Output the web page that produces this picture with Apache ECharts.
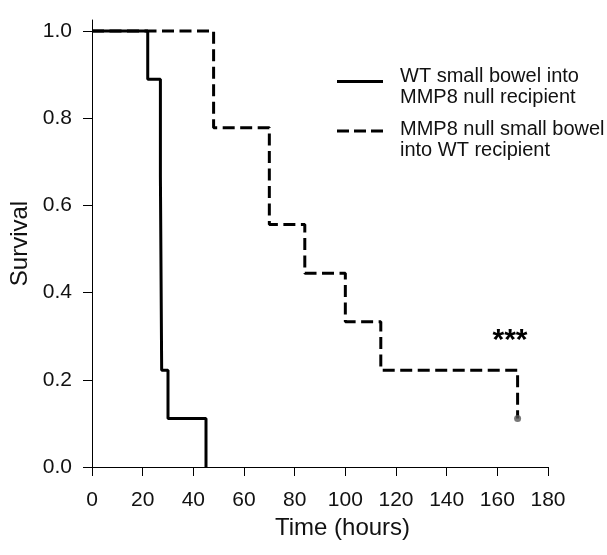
<!DOCTYPE html>
<html><head><meta charset="utf-8">
<script src="https://cdn.jsdelivr.net/npm/echarts@6/dist/echarts.min.js"></script>
<style>html,body{margin:0;padding:0;background:#fff}#c{width:607px;height:555px}</style>
</head><body><div id="c"></div>
<script>
// ---- data ----
const xTicks = [0, 20, 40, 60, 80, 100, 120, 140, 160, 180];
const yTicks = [0, 0.2, 0.4, 0.6, 0.8, 1.0];
const wtTime = [0, 22, 27, 27.5, 30, 45];
const wtSurv = [1, 0.889, 0.667, 0.222, 0.111, 0];
const nullTime = [0, 48, 70, 84, 100, 114, 168];
const nullSurv = [1, 0.778, 0.556, 0.444, 0.333, 0.222, 0.111];
const censorTime = [168];
const censorSurv = [0.111];
const seriesNames = ['WT small bowel into\nMMP8 null recipient', 'MMP8 null small bowel\ninto WT recipient'];
const annotationText = '***';
const annotationPos = [165, 0.3];
const xName = 'Time (hours)';
const yName = 'Survival';

const FONT = 'Liberation Sans, Arial, Helvetica, sans-serif';
const zip = (a, b) => a.map((v, i) => [v, b[i]]);

const chart = echarts.init(document.getElementById('c'), null, {renderer: 'canvas'});
chart.setOption({
  animation: false,
  backgroundColor: '#fff',
  grid: {left: 92, right: 59, top: 20, bottom: 88, containLabel: false, outerBoundsMode: 'none'},
  xAxis: {
    type: 'value', min: xTicks[0], max: xTicks[xTicks.length - 1], interval: 20,
    name: xName, nameLocation: 'middle', nameGap: 49,
    nameTextStyle: {fontFamily: FONT, fontSize: 24, color: '#111', padding: [0, 0, 0, 45]},
    axisLine: {show: true, lineStyle: {color: '#000', width: 1}},
    axisTick: {show: true, inside: false, length: 9, lineStyle: {color: '#000', width: 1}, customValues: xTicks},
    axisLabel: {fontFamily: FONT, fontSize: 21, color: '#111', margin: 23, customValues: xTicks},
    splitLine: {show: false}
  },
  yAxis: {
    type: 'value', min: 0, max: 1.025,
    name: yName, nameLocation: 'middle', nameGap: 58, nameRotate: 90,
    nameTextStyle: {fontFamily: FONT, fontSize: 24, color: '#111'},
    axisLine: {show: true, onZero: false, lineStyle: {color: '#000', width: 1}},
    axisTick: {show: true, inside: false, length: 9, lineStyle: {color: '#000', width: 1}, customValues: yTicks},
    axisLabel: {fontFamily: FONT, fontSize: 21, color: '#111', margin: 20, customValues: yTicks,
      formatter: v => Number(v).toFixed(1)},
    splitLine: {show: false}
  },
  series: [
    {
      name: seriesNames[1], type: 'line', step: 'end', data: zip(nullTime, nullSurv),
      symbol: 'none', z: 2,
      lineStyle: {color: '#000', width: 3, type: [12, 5.5]},
      markPoint: {
        silent: true, symbol: 'circle', symbolSize: 0,
        data: [{coord: annotationPos, value: annotationText}],
        label: {show: true, position: 'inside', formatter: annotationText, fontFamily: FONT,
          fontSize: 30, fontWeight: 'bold', color: '#000', offset: [0, 5]}
      }
    },
    {
      name: seriesNames[0], type: 'line', step: 'end', data: zip(wtTime, wtSurv),
      symbol: 'none', z: 3,
      lineStyle: {color: '#000', width: 3, type: 'solid'}
    },
    {
      name: 'censored', type: 'scatter', data: zip(censorTime, censorSurv),
      symbol: 'circle', symbolSize: 7, z: 4,
      itemStyle: {color: '#555'}
    }
  ],
  graphic: [
    {type: 'line', shape: {x1: 337, y1: 81.5, x2: 383, y2: 81.5}, style: {stroke: '#000', lineWidth: 3}},
    {type: 'text', x: 400, y: 66, style: {text: seriesNames[0], fontFamily: FONT, fontSize: 20,
      lineHeight: 21, verticalAlign: 'top', align: 'left', fill: '#111'}},
    {type: 'line', shape: {x1: 337, y1: 131, x2: 383, y2: 131}, style: {stroke: '#000', lineWidth: 3, lineDash: [12, 5]}},
    {type: 'text', x: 400, y: 119, style: {text: seriesNames[1], fontFamily: FONT, fontSize: 20,
      lineHeight: 21, verticalAlign: 'top', align: 'left', fill: '#111'}}
  ]
});
</script>
</body></html>
